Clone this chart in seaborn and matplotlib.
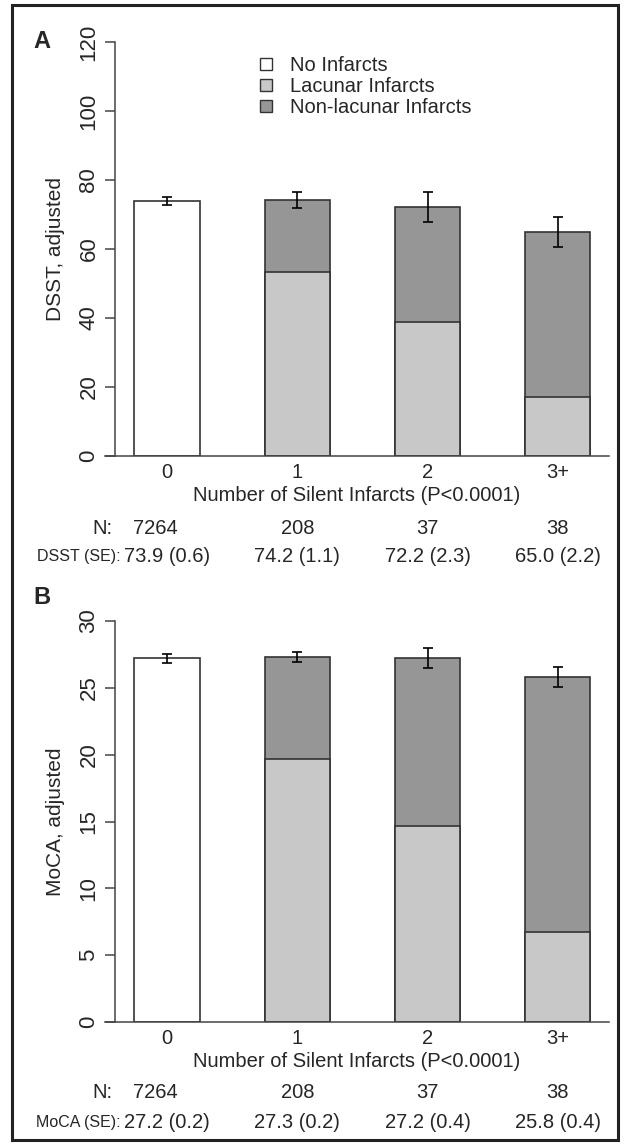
import numpy as np
import pandas as pd
import matplotlib
matplotlib.use("Agg")
import matplotlib.pyplot as plt
import matplotlib.transforms as mtransforms
from matplotlib.patches import Patch, Rectangle
import seaborn as sns

# ---- data ----
categories = ["0", "1", "2", "3+"]
n_counts = [7264, 208, 37, 38]

dsst_total = [73.9, 74.2, 72.2, 65.0]
dsst_lacunar = [np.nan, 53.4, 38.9, 17.0]
dsst_ci = [1.2, 2.2, 4.4, 4.4]
dsst_se = [0.6, 1.1, 2.3, 2.2]

moca_total = [27.2, 27.3, 27.2, 25.8]
moca_lacunar = [np.nan, 19.7, 14.7, 6.75]
moca_ci = [0.35, 0.4, 0.75, 0.75]
moca_se = [0.2, 0.2, 0.4, 0.4]

WHITE = "#ffffff"
LIGHT = "#c8c8c8"
DARK = "#969696"
EDGE = "#333333"
AXC = "#444444"

sns.set_theme(style="white")
plt.rcParams["font.family"] = ["Liberation Sans", "DejaVu Sans"]

W, H = 630, 1145
fig = plt.figure(figsize=(W / 100, H / 100), dpi=100)


def fx(px):
    return px / W


def fy(py):
    return 1 - py / H


def draw_panel(ax, total, lacunar, ci, ymax, step, ylabel):
    df = pd.DataFrame({"cat": categories, "total": total, "lac": lacunar})
    sns.barplot(data=df, x="cat", y="total", hue="cat", order=categories,
                palette=[WHITE, DARK, DARK, DARK], width=0.5,
                edgecolor=EDGE, linewidth=1.2, legend=False, ax=ax,
                errorbar=None)
    sns.barplot(data=df.dropna(), x="cat", y="lac", order=categories,
                color=LIGHT, saturation=1, width=0.5,
                edgecolor=EDGE, linewidth=1.2, ax=ax, errorbar=None)
    ax.errorbar(np.arange(len(categories)), total, yerr=ci, fmt="none",
                ecolor="black", elinewidth=1.2, capsize=3.5, capthick=1.2,
                zorder=5)
    ax.set_xlim(-0.476, 3.392)
    ax.set_ylim(0, ymax)
    ticks = np.arange(0, ymax + 1, step)
    ax.set_yticks(ticks)
    ax.set_yticklabels([str(int(v)) for v in ticks])
    for s in ["top", "right"]:
        ax.spines[s].set_visible(False)
    ax.spines["left"].set_position(("data", -0.399))
    ax.spines["left"].set_bounds(0, ymax)
    for s in ["left", "bottom"]:
        ax.spines[s].set_color(AXC)
        ax.spines[s].set_linewidth(1.1)
    ax.tick_params(axis="y", length=7.2, width=1.1, color=AXC,
                   labelsize=16, pad=4, left=True, labelrotation=90)
    for lab in ax.get_yticklabels():
        lab.set_verticalalignment("center")
    ax.tick_params(axis="x", length=0, labelsize=14.5, pad=5)
    ax.set_xlabel("Number of Silent Infarcts (P<0.0001)", fontsize=14.5,
                  labelpad=3)
    ax.set_ylabel(ylabel, fontsize=15, labelpad=10)
    ax.patch.set_alpha(0)


axA = fig.add_axes([fx(105), fy(456), fx(609) - fx(105), fy(42) - fy(456)])
axB = fig.add_axes([fx(105), fy(1022), fx(609) - fx(105), fy(621) - fy(1022)])

draw_panel(axA, dsst_total, dsst_lacunar, dsst_ci, 120, 20, "DSST, adjusted")
draw_panel(axB, moca_total, moca_lacunar, moca_ci, 30, 5, "MoCA, adjusted")

# legend
handles = [Patch(facecolor=c, edgecolor=EDGE, linewidth=1.0)
           for c in [WHITE, LIGHT, DARK]]
axA.legend(handles, ["No Infarcts", "Lacunar Infarcts", "Non-lacunar Infarcts"],
           loc="upper left", bbox_to_anchor=(fx(250), fy(46)),
           bbox_transform=fig.transFigure, frameon=False, fontsize=14.5,
           handlelength=0.6, handleheight=0.6, handletextpad=0.9,
           labelspacing=0.1, borderpad=0)

# table rows under each panel
def table_rows(ax, se_label, means, ses, y_n, y_v):
    tr = mtransforms.blended_transform_factory(ax.transData, fig.transFigure)
    fig.text(fx(113), fy(y_n), "N:", ha="right", va="center", fontsize=14.5)
    fig.text(fx(121), fy(y_v), se_label, ha="right", va="center", fontsize=11.5)
    for i, n in enumerate(n_counts):
        xo = -0.09 if i == 0 else i
        ax.text(xo, fy(y_n), str(n), transform=tr, ha="center", va="center",
                fontsize=14.5)
        ax.text(i, fy(y_v), f"{means[i]:.1f} ({ses[i]:.1f})", transform=tr,
                ha="center", va="center", fontsize=14.5)


table_rows(axA, "DSST (SE):", dsst_total, dsst_se, 528, 556)
table_rows(axB, "MoCA (SE):", moca_total, moca_se, 1093, 1122)

fig.text(fx(42), fy(42), "A", ha="center", va="center", fontsize=17,
         fontweight="bold")
fig.text(fx(42), fy(598), "B", ha="center", va="center", fontsize=17,
         fontweight="bold")

fig.add_artist(Rectangle((fx(12), fy(1140)), fx(618) - fx(12), fy(5) - fy(1140),
                         transform=fig.transFigure, fill=False,
                         edgecolor="#222222", linewidth=2.2))

fig.savefig("out.png", dpi=100, facecolor="white")
